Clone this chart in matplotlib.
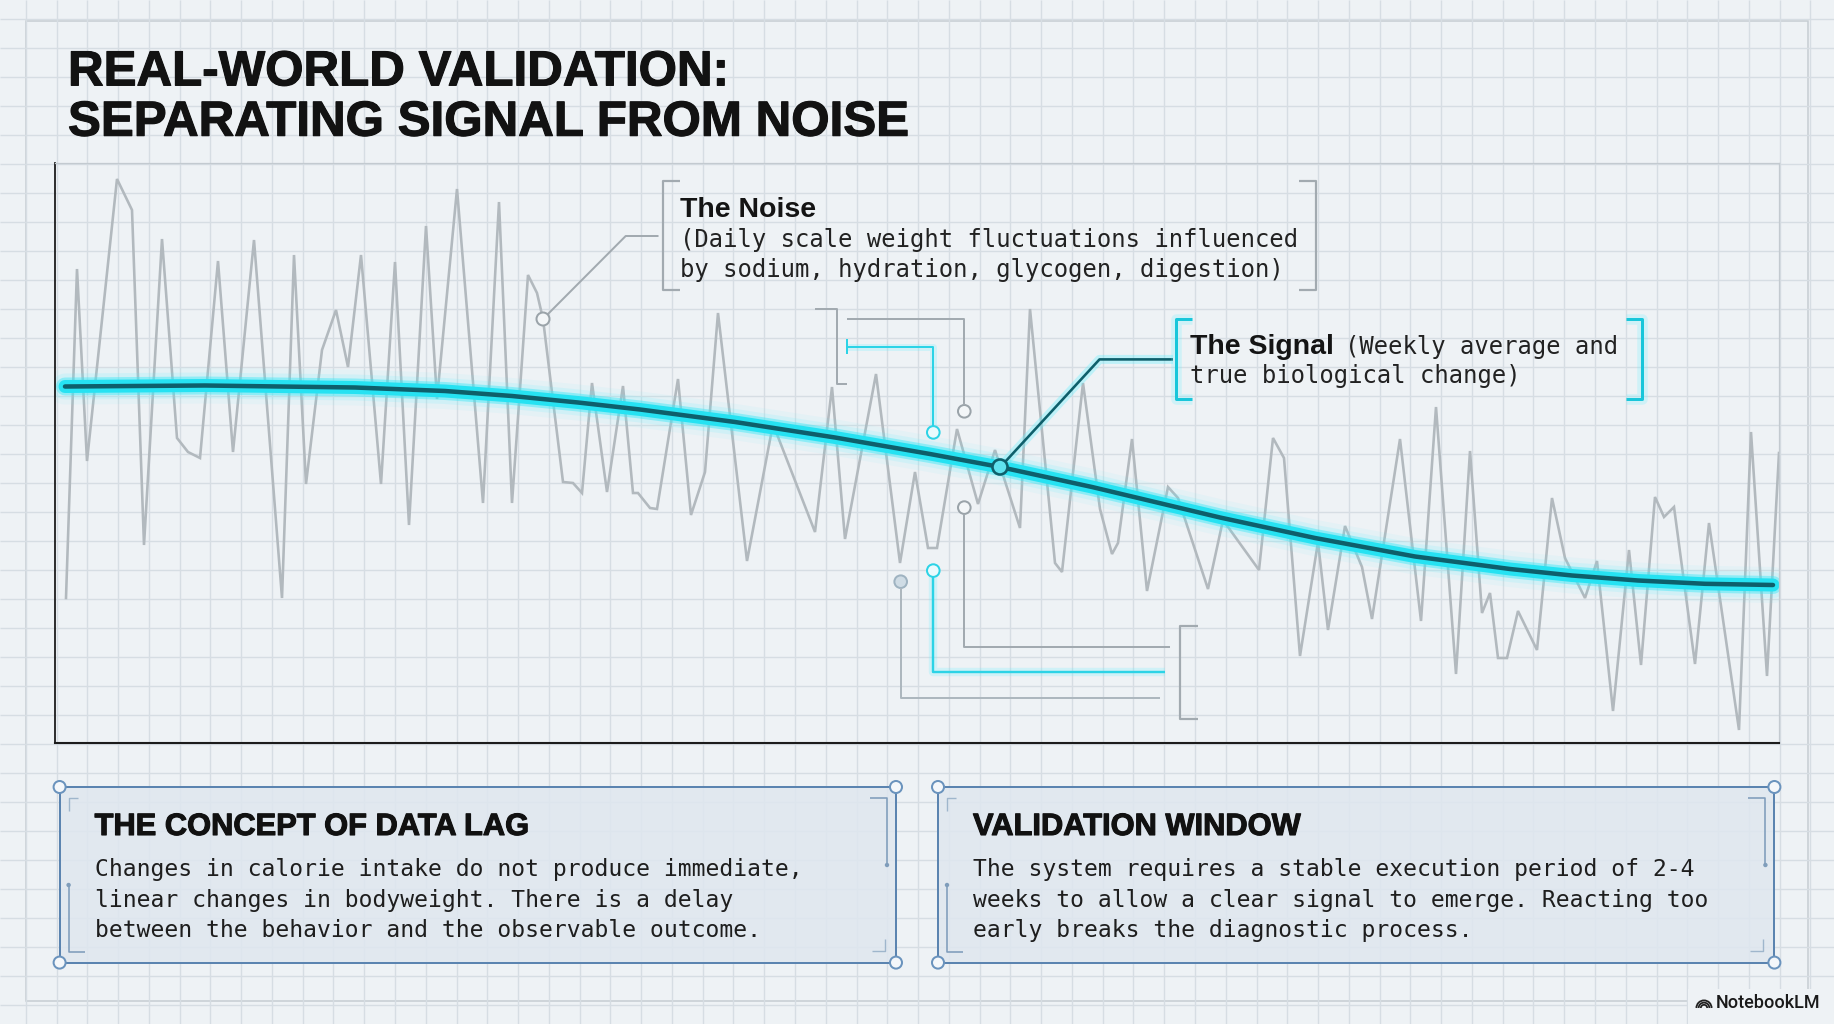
import matplotlib
matplotlib.use("Agg")
import matplotlib.pyplot as plt
import matplotlib.patheffects as pe
from matplotlib.colors import to_rgba
from matplotlib.patches import Rectangle, Circle, Arc

plt.rcParams["font.family"] = ["Liberation Sans", "DejaVu Sans"]

# daily scale readings (day, kg)
days_noise = [1.1, 2.2, 3.2, 6.2, 7.7, 8.9, 10.7, 12.2, 13.3, 14.5,
              16.3, 17.8, 19.9, 22.7, 23.9, 25.1, 26.7, 28.1, 29.3, 30.6,
              32.6, 34.0, 35.4, 37.1, 38.2, 40.2, 42.8, 44.4, 45.7, 47.3,
              48.2, 48.8, 50.8, 51.8, 52.7, 53.7, 55.2, 56.8, 57.8, 58.3,
              59.5, 60.2, 62.3, 63.6, 65.0, 66.3, 69.2, 71.8, 76.0, 77.7,
              79.0, 82.1, 84.5, 86.0, 87.3, 88.2, 90.2, 92.3, 94.0, 96.5,
              97.5, 100.0, 100.7, 102.8, 104.5, 105.7, 106.3, 107.7, 109.2, 111.3,
              112.3, 115.3, 116.8, 120.4, 121.8, 122.9, 124.5, 126.3, 127.3, 129.0,
              130.7, 131.7, 134.5, 136.6, 138.1, 140.1, 141.5, 142.7, 143.5, 144.3,
              145.2, 146.3, 148.2, 149.7, 151.0, 153.0, 154.2, 155.8, 157.4, 158.6,
              160.0, 160.9, 161.9, 164.0, 165.4, 168.4, 169.6, 171.2, 172.4]
weight_noise = [81.45, 84.74, 82.82, 85.64, 85.33, 81.98, 85.04, 83.05, 82.91, 82.85,
                84.82, 82.91, 85.03, 81.45, 84.88, 82.59, 83.93, 84.33, 83.76, 84.88,
                82.59, 84.81, 82.18, 85.17, 83.44, 85.54, 82.40, 85.41, 82.40, 84.68,
                84.50, 84.24, 82.61, 82.60, 82.50, 83.60, 82.51, 83.57, 82.50, 82.50,
                82.35, 82.34, 83.64, 82.28, 82.71, 84.30, 81.82, 83.19, 82.11, 83.56,
                82.04, 83.69, 81.80, 82.71, 81.95, 81.95, 83.14, 82.39, 82.93, 82.15,
                84.34, 81.80, 81.71, 83.60, 82.34, 81.89, 82.00, 83.04, 81.52, 82.56,
                82.45, 81.54, 82.23, 81.73, 83.05, 82.85, 80.87, 82.01, 81.13, 82.17,
                81.76, 81.24, 83.04, 81.22, 83.36, 80.69, 82.92, 81.30, 81.50, 80.85,
                80.85, 81.32, 80.93, 82.45, 81.85, 81.45, 81.82, 80.32, 81.93, 80.78,
                82.46, 82.26, 82.36, 80.79, 82.20, 80.13, 83.11, 80.67, 82.90]
NOISE_MARK = 31

# weekly average trend
days_signal = [1.0, 15.0, 30.0, 39.0, 45.7, 52.3, 58.5, 68.0, 78.0, 87.5,
               94.5, 103.7, 116.5, 126.0, 136.0, 145.5, 151.7, 158.3, 165.0, 171.8]
weight_signal = [83.565, 83.575, 83.555, 83.52, 83.47, 83.405, 83.335, 83.21, 83.055, 82.89,
                 82.76, 82.56, 82.255, 82.05, 81.865, 81.74, 81.675, 81.625, 81.592, 81.58]
SIGNAL_MARK = 10

title_lines = ["REAL-WORLD VALIDATION:", "SEPARATING SIGNAL FROM NOISE"]
noise_label = "The Noise"
noise_text = ["(Daily scale weight fluctuations influenced",
              "by sodium, hydration, glycogen, digestion)"]
signal_label = "The Signal"
signal_text = ["(Weekly average and", "true biological change)"]
panel_titles = ["THE CONCEPT OF DATA LAG", "VALIDATION WINDOW"]
panel_texts = [
    ["Changes in calorie intake do not produce immediate,",
     "linear changes in bodyweight. There is a delay",
     "between the behavior and the observable outcome."],
    ["The system requires a stable execution period of 2-4",
     "weeks to allow a clear signal to emerge. Reacting too",
     "early breaks the diagnostic process."],
]

W, H = 1834, 1024
BG = "#eef2f5"
GRID = "#d6dde3"
GRAY = "#a2aab0"
CYAN = "#26e2f2"
GLOW = "#62f0ff"
TEAL = "#0e5f6b"
MONO = "DejaVu Sans Mono"
PT = 0.72  # points per pixel at 100 dpi
HEAVY = [pe.withStroke(linewidth=0.8, foreground="#121212")]


def poly(ax, pts, color, lw, **kw):
    ax.plot([p[0] for p in pts], [p[1] for p in pts], color=color,
            lw=lw * PT, solid_capstyle="butt", **kw)


def glow_poly(ax, pts, color, lw):
    poly(ax, pts, GLOW, lw * 3.5, alpha=0.22)
    poly(ax, pts, color, lw)


def main():
    fig = plt.figure(figsize=(W / 100, H / 100), dpi=100, facecolor=BG)

    # background grid paper
    bg = fig.add_axes([0, 0, 1, 1], zorder=0)
    bg.set_xlim(0, W)
    bg.set_ylim(H, 0)
    bg.axis("off")
    bg.vlines([87.3 + 30.77 * k for k in range(-2, 58)], 0, H, color=GRID, lw=1)
    bg.hlines([192.7 + 29 * k for k in range(-6, 30)], 0, W, color=GRID, lw=1)
    bg.add_patch(Rectangle((26, 21), 1782, 980, fill=False, ec="#c6cdd3", lw=1.1))

    # chart
    ax = fig.add_axes([55 / W, (H - 743) / H, 1724 / W, 580 / H], zorder=1)
    ax.set_facecolor("none")
    ax.set_xlim(0, 172.4)
    ax.set_ylim(80, 85.8)
    ax.set_xticks([])
    ax.set_yticks([])
    for s in ("top", "right"):
        ax.spines[s].set_color("#c3cad0")
        ax.spines[s].set_linewidth(0.9)
    ax.spines["left"].set_color("#1c1c1c")
    ax.spines["left"].set_linewidth(1.3)
    ax.spines["bottom"].set_color("#1c1c1c")
    ax.spines["bottom"].set_linewidth(1.5)

    ax.plot(days_noise, weight_noise, color="#b2b9be", lw=2.6 * PT,
            solid_joinstyle="miter")
    for lw, col, a in [(36, GLOW, 0.07), (26, GLOW, 0.15), (18, "#3de8f6", 0.45),
                       (13, CYAN, 1.0), (4.5, TEAL, 1.0)]:
        ax.plot(days_signal, weight_signal, color=col, alpha=a, lw=lw * PT,
                solid_capstyle="round", solid_joinstyle="round")

    def to_px(x, y):
        X, Y = ax.transData.transform((x, y))
        return X, H - Y

    # overlay for annotations
    ov = fig.add_axes([0, 0, 1, 1], zorder=2)
    ov.set_xlim(0, W)
    ov.set_ylim(H, 0)
    ov.axis("off")

    for k, line in enumerate(title_lines):
        ov.text(68, 85.4 + 50.3 * k, line, fontsize=35.5, weight="bold",
                color="#121212", path_effects=HEAVY)

    # noise callout
    nx, ny = to_px(days_noise[NOISE_MARK], weight_noise[NOISE_MARK])
    poly(ov, [(nx + 4.5, ny - 4.5), (625.7, 236), (658.5, 236)], GRAY, 2)
    ov.add_patch(Circle((nx, ny), 6.5, fc="#f3f6f8", ec="#9aa3a9", lw=2 * PT, zorder=4))
    poly(ov, [(680, 181), (663, 181), (663, 290), (680, 290)], GRAY, 2.2)
    poly(ov, [(1299, 181), (1316, 181), (1316, 290), (1299, 290)], GRAY, 2.2)
    ov.text(680, 217, noise_label, fontsize=20.5, weight="bold", color="#141414")
    ov.text(680, 246.5, noise_text[0], family=MONO, fontsize=17.2, color="#222222")
    ov.text(680, 277, noise_text[1], family=MONO, fontsize=17.2, color="#222222")

    # signal callout
    sx, sy = to_px(days_signal[SIGNAL_MARK], weight_signal[SIGNAL_MARK])
    leader = [(sx + 5, sy - 5), (1099.5, 359.4), (1173, 359.4)]
    poly(ov, leader, GLOW, 9, alpha=0.35)
    poly(ov, leader, TEAL, 2.6)
    ov.add_patch(Circle((sx, sy), 7.5, fc="#5fe2ee", ec=TEAL, lw=2.6 * PT, zorder=4))
    glow_poly(ov, [(1192, 319), (1175.5, 319), (1175.5, 399), (1192, 399)], "#19c6da", 3)
    glow_poly(ov, [(1626, 319), (1642, 319), (1642, 399), (1626, 399)], "#19c6da", 3)
    t = ov.text(1190, 354, signal_label, fontsize=20.5, weight="bold", color="#141414")
    x1 = t.get_window_extent(fig.canvas.get_renderer()).x1
    ov.text(x1 + 11, 354, signal_text[0], family=MONO, fontsize=17.2, color="#222222")
    ov.text(1190, 383.5, signal_text[1], family=MONO, fontsize=17.2, color="#222222")

    # circuit connectors in the middle
    poly(ov, [(815, 308.7), (837.3, 308.7), (837.3, 384.3), (847.3, 384.3)], GRAY, 2)
    poly(ov, [(846.7, 318.7), (964.3, 318.7), (964.3, 405)], GRAY, 2)
    ov.add_patch(Circle((964.3, 411.3), 6.3, fc="#f3f6f8", ec="#9aa3a9", lw=2 * PT))
    glow_poly(ov, [(847.3, 346.5), (933.3, 346.5), (933.3, 426)], "#2cd3e6", 2)
    poly(ov, [(847.3, 339), (847.3, 354)], "#2cd3e6", 2)
    ov.add_patch(Circle((933.3, 432.4), 6.3, fc="#eafafd", ec="#2cd3e6", lw=2 * PT))

    poly(ov, [(964.3, 514), (964.3, 646.5), (1170, 646.5)], GRAY, 2)
    ov.add_patch(Circle((964.3, 507.6), 6.3, fc="#f3f6f8", ec="#9aa3a9", lw=2 * PT))
    glow_poly(ov, [(933.3, 577), (933.3, 672.4), (1165, 672.4)], "#2cd3e6", 2.4)
    ov.add_patch(Circle((933.3, 570.6), 6.3, fc="#eafafd", ec="#2cd3e6", lw=2 * PT))
    poly(ov, [(900.7, 588), (900.7, 698.3), (1160, 698.3)], "#adb7be", 2)
    ov.add_patch(Circle((900.7, 581.7), 6.3, fc="#cfdce5", ec="#9fb3c1", lw=2 * PT))
    poly(ov, [(1198.3, 626), (1180, 626), (1180, 718.7), (1198.3, 718.7)], GRAY, 2.2)

    # bottom panels
    for i, x0 in enumerate([59.6, 938]):
        x1b, y0, y1 = x0 + 836.4, 787, 962.6
        ov.add_patch(Rectangle((x0, y0), x1b - x0, y1 - y0,
                               fc=to_rgba("#dfe7ef", 0.85), ec="#5b84b0", lw=2 * PT))
        light = "#9fb6cc"
        poly(ov, [(x0 + 9, y0 + 24), (x0 + 9, y0 + 11), (x0 + 18, y0 + 11)], light, 1.4)
        poly(ov, [(x0 + 9, y0 + 98), (x0 + 9, y1 - 11), (x0 + 25, y1 - 11)], "#7f9dbb", 1.6)
        ov.add_patch(Circle((x0 + 9, y0 + 98), 2.2, fc="#7f9dbb", ec="none"))
        poly(ov, [(x1b - 26, y0 + 11), (x1b - 9, y0 + 11), (x1b - 9, y0 + 78)], "#7f9dbb", 1.6)
        ov.add_patch(Circle((x1b - 9, y0 + 78), 2.2, fc="#7f9dbb", ec="none"))
        poly(ov, [(x1b - 24, y1 - 12), (x1b - 11, y1 - 12), (x1b - 11, y1 - 24)], light, 1.4)
        for cx in (x0, x1b):
            for cy in (y0, y1):
                ov.add_patch(Circle((cx, cy), 6, fc="#f4f7fa", ec="#6a93bd", lw=2 * PT, zorder=5))
        ov.text(x0 + 35, 835, panel_titles[i], fontsize=22.2, weight="bold",
                color="#111111", path_effects=HEAVY)
        for j, line in enumerate(panel_texts[i]):
            ov.text(x0 + 35, 876 + 30.5 * j, line, family=MONO, fontsize=16.6,
                    color="#1e1e1e")

    # watermark
    ov.add_patch(Rectangle((1688, 989), 146, 35, fc=BG, ec="none", zorder=6))
    for r in (3.2, 5.4, 7.6):
        ov.add_patch(Arc((1704, 1008), 2 * r, 2 * r, theta1=180, theta2=360,
                         color="#222222", lw=1.3, zorder=7))
    ov.text(1716, 1008.5, "NotebookLM", family=["Roboto", "DejaVu Sans"],
            fontsize=13, weight="medium", color="#1a1a1a", zorder=7)

    fig.savefig("out.png", dpi=100, facecolor=BG)


if __name__ == "__main__":
    main()
